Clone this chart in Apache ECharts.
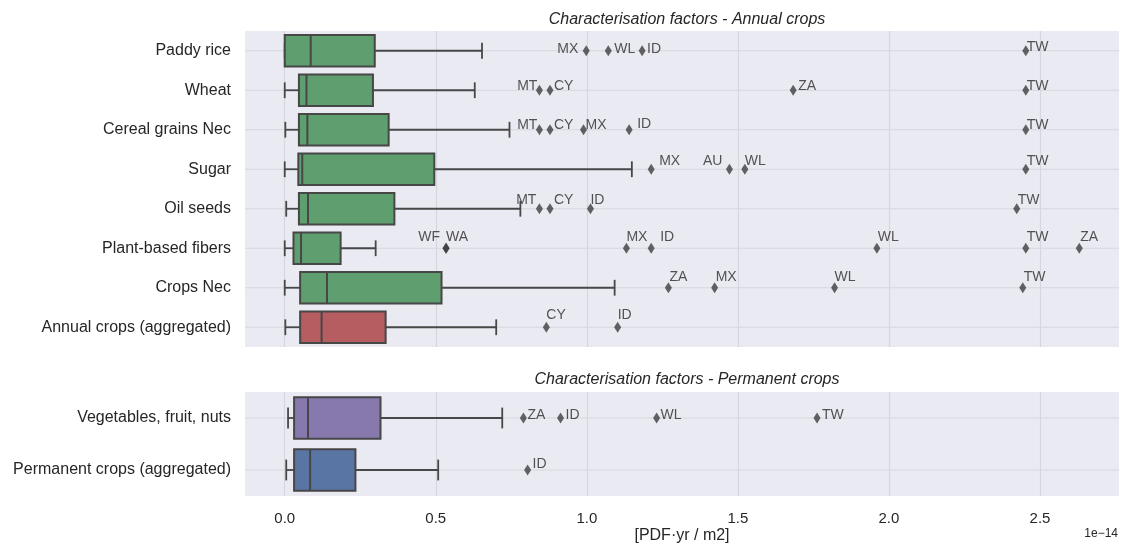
<!DOCTYPE html>
<html>
<head>
<meta charset="utf-8">
<script src="https://cdn.jsdelivr.net/npm/echarts@6/dist/echarts.min.js"></script>
<style>
  html, body { margin: 0; padding: 0; background: #fff; }
  #chart { width: 1121px; height: 545px; }
</style>
</head>
<body>
<div id="chart"></div>
<script>
// values in units of 1e-14 PDF·yr / m2
const annualCrops = ['Paddy rice', 'Wheat', 'Cereal grains Nec', 'Sugar', 'Oil seeds',
  'Plant-based fibers', 'Crops Nec', 'Annual crops (aggregated)'];
const permanentCrops = ['Vegetables, fruit, nuts', 'Permanent crops (aggregated)'];

// [lower whisker, q1, median, q3, upper whisker]
const annualStats = [
  [0.000, 0.000, 0.086, 0.298, 0.653],
  [0.000, 0.047, 0.072, 0.292, 0.629],
  [0.002, 0.047, 0.075, 0.344, 0.744],
  [0.000, 0.045, 0.058, 0.495, 1.149],
  [0.005, 0.047, 0.077, 0.363, 0.780],
  [0.000, 0.029, 0.054, 0.185, 0.301],
  [0.000, 0.051, 0.140, 0.519, 1.092],
  [0.002, 0.051, 0.122, 0.334, 0.700]
];
const permanentStats = [
  [0.011, 0.031, 0.077, 0.317, 0.720],
  [0.005, 0.031, 0.084, 0.234, 0.508]
];

// outliers per row: [value, country code]
const annualOutliers = [
  [[0.998, 'MX'], [1.071, 'WL'], [1.183, 'ID'], [2.453, 'TW']],
  [[0.843, 'MT'], [0.878, 'CY'], [1.683, 'ZA'], [2.453, 'TW']],
  [[0.843, 'MT'], [0.878, 'CY'], [0.989, 'MX'], [1.140, 'ID'], [2.453, 'TW']],
  [[1.213, 'MX'], [1.472, 'AU'], [1.523, 'WL'], [2.453, 'TW']],
  [[0.843, 'MT'], [0.878, 'CY'], [1.012, 'ID'], [2.423, 'TW']],
  [[0.534, 'WF'], [0.534, 'WA'], [1.131, 'MX'], [1.213, 'ID'], [1.960, 'WL'], [2.453, 'TW'], [2.630, 'ZA']],
  [[1.270, 'ZA'], [1.423, 'MX'], [1.820, 'WL'], [2.443, 'TW']],
  [[0.866, 'CY'], [1.102, 'ID']]
];
const permanentOutliers = [
  [[0.790, 'ZA'], [0.913, 'ID'], [1.231, 'WL'], [1.762, 'TW']],
  [[0.804, 'ID']]
];

// label placement next to each outlier marker: [align, dx, dy]
const annualLabelPos = [
  [['right', -8, -2], ['left', 6, -2], ['left', 5, -2], ['left', 1, -4]],
  [['right', -2, -4], ['left', 4, -4], ['left', 5, -4], ['left', 1, -4]],
  [['right', -2, -5], ['left', 4, -5], ['left', 2, -5], ['left', 8, -6], ['left', 1, -5]],
  [['left', 8, -8], ['right', -7, -8], ['left', 0, -8], ['left', 1, -8]],
  [['right', -3, -9], ['left', 4, -9], ['left', 0, -9], ['left', 1, -9]],
  [['right', -6, -11], ['left', 0, -11], ['left', 0, -11], ['left', 9, -11], ['left', 1, -11], ['left', 1, -11], ['left', 1, -11]],
  [['left', 1, -11], ['left', 1, -11], ['left', 0, -11], ['left', 1, -11]],
  [['left', 0, -12], ['left', 0, -12]]
];
const permanentLabelPos = [
  [['left', 4, -3], ['left', 5, -3], ['left', 4, -3], ['left', 5, -3]],
  [['left', 5, -6]]
];

const annualColors = ['#5f9e6e', '#5f9e6e', '#5f9e6e', '#5f9e6e', '#5f9e6e', '#5f9e6e', '#5f9e6e', '#b55d60'];
const permanentColors = ['#8779ad', '#5875a4'];

const xMin = -0.1315, xMax = 2.7615;
const font = '"Liberation Sans", Arial, sans-serif';
const ink = '#262626';
const lineColor = '#474747';
const gridColor = '#d6d6de';

function boxRenderer(colors) {
  return function (params, api) {
    const row = api.value(0);
    const lo = api.coord([api.value(1), row]);
    const q1 = api.coord([api.value(2), row]);
    const md = api.coord([api.value(3), row]);
    const q3 = api.coord([api.value(4), row]);
    const hi = api.coord([api.value(5), row]);
    const band = api.size([0, 1])[1];
    const h = band * 0.8, cap = h / 4;
    const y = lo[1];
    const cs = params.coordSys;
    const ls = { stroke: lineColor, lineWidth: 1.8 };
    return {
      type: 'group',
      children: [
        { type: 'line', shape: { x1: cs.x, y1: y, x2: cs.x + cs.width, y2: y }, style: { stroke: gridColor, lineWidth: 1.2 } },
        { type: 'line', shape: { x1: lo[0], y1: y, x2: q1[0], y2: y }, style: ls },
        { type: 'line', shape: { x1: q3[0], y1: y, x2: hi[0], y2: y }, style: ls },
        { type: 'line', shape: { x1: lo[0], y1: y - cap, x2: lo[0], y2: y + cap }, style: ls },
        { type: 'line', shape: { x1: hi[0], y1: y - cap, x2: hi[0], y2: y + cap }, style: ls },
        { type: 'rect', shape: { x: q1[0], y: y - h / 2, width: q3[0] - q1[0], height: h },
          style: { fill: colors[row], stroke: lineColor, lineWidth: 2 } },
        { type: 'line', shape: { x1: md[0], y1: y - h / 2, x2: md[0], y2: y + h / 2 }, style: { stroke: lineColor, lineWidth: 2 } }
      ]
    };
  };
}

function boxData(stats) {
  return stats.map((s, i) => [i].concat(s));
}

function outlierData(outliers, labelPos) {
  const out = [];
  outliers.forEach((row, i) => {
    row.forEach((o, j) => {
      const p = labelPos[i][j];
      out.push({
        value: [o[0], i],
        name: o[1],
        label: { align: p[0], offset: [p[1], p[2]] }
      });
    });
  });
  return out;
}

function xAxisFor(gridIndex, showLabels) {
  return {
    type: 'value', gridIndex: gridIndex, min: xMin, max: xMax,
    axisLine: { show: false }, axisTick: { show: false },
    splitLine: { show: true, showMinLine: false, showMaxLine: false, lineStyle: { color: gridColor, width: 1.2 } },
    axisLabel: {
      show: showLabels, color: ink, fontFamily: font, fontSize: 15, margin: 15,
      showMinLabel: false, showMaxLabel: false,
      formatter: v => Math.abs(v * 2 - Math.round(v * 2)) < 1e-6 ? v.toFixed(1) : ''
    }
  };
}

function yAxisFor(gridIndex, cats) {
  return {
    type: 'category', gridIndex: gridIndex, data: cats, inverse: true,
    axisLine: { show: false }, axisTick: { show: false }, splitLine: { show: false },
    axisLabel: { color: ink, fontFamily: font, fontSize: 16, margin: 14 }
  };
}

const scatterStyle = {
  type: 'scatter', symbol: 'diamond', symbolSize: [7, 11],
  itemStyle: { color: '#3d3d3d' }, z: 5,
  label: {
    show: true, position: 'inside', verticalAlign: 'middle',
    formatter: p => p.name, color: '#2b2b2b', fontFamily: font, fontSize: 14
  }
};

const titleStyle = { fontFamily: font, fontSize: 16, fontStyle: 'italic', fontWeight: 'normal', color: ink };

const chart = echarts.init(document.getElementById('chart'));
chart.setOption({
  animation: false,
  backgroundColor: '#ffffff',
  title: [
    { text: 'Characterisation factors - Annual crops', left: 682, top: 7, textAlign: 'center', textStyle: titleStyle },
    { text: 'Characterisation factors - Permanent crops', left: 682, top: 367, textAlign: 'center', textStyle: titleStyle }
  ],
  grid: [
    { left: 245, top: 31, width: 874, height: 316, backgroundColor: '#eaeaf2', show: true, borderWidth: 0 },
    { left: 245, top: 392, width: 874, height: 104, backgroundColor: '#eaeaf2', show: true, borderWidth: 0 }
  ],
  xAxis: [xAxisFor(0, false), xAxisFor(1, true)],
  yAxis: [yAxisFor(0, annualCrops), yAxisFor(1, permanentCrops)],
  graphic: [
    { type: 'text', x: 682, y: 536, style: { text: '[PDF·yr / m2]', font: '16px ' + font, fill: ink, align: 'center', verticalAlign: 'middle' } },
    { type: 'text', x: 1118, y: 534, style: { text: '1e\u221214', font: '12px ' + font, fill: ink, align: 'right', verticalAlign: 'middle' } }
  ],
  series: [
    { type: 'custom', xAxisIndex: 0, yAxisIndex: 0, renderItem: boxRenderer(annualColors),
      encode: { x: [1, 2, 3, 4, 5], y: 0 }, data: boxData(annualStats), z: 2 },
    { type: 'custom', xAxisIndex: 1, yAxisIndex: 1, renderItem: boxRenderer(permanentColors),
      encode: { x: [1, 2, 3, 4, 5], y: 0 }, data: boxData(permanentStats), z: 2 },
    Object.assign({}, scatterStyle, { xAxisIndex: 0, yAxisIndex: 0, data: outlierData(annualOutliers, annualLabelPos) }),
    Object.assign({}, scatterStyle, { xAxisIndex: 1, yAxisIndex: 1, data: outlierData(permanentOutliers, permanentLabelPos) })
  ]
});
</script>
</body>
</html>
